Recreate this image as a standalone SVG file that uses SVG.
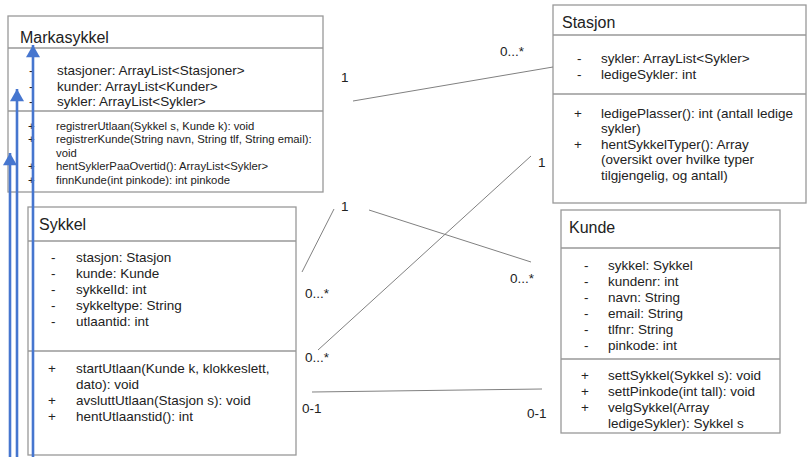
<svg xmlns="http://www.w3.org/2000/svg" width="807" height="457" viewBox="0 0 807 457">
<style>
.box{fill:#ffffff;stroke:#999999;stroke-width:1.3}
.div{stroke:#999999;stroke-width:1.3}
text{font-family:"Liberation Sans",Arial,sans-serif;fill:#222222}
.t{font-size:16px}
.a{font-size:13.5px}
.m{font-size:11.3px}
.c{stroke:#808080;stroke-width:1;fill:none}
.ml{font-size:13.5px}
.blue{stroke:#4676cf;stroke-width:2.6;fill:none}
</style>
<defs>
<marker id="bh" markerUnits="userSpaceOnUse" markerWidth="16" markerHeight="14" refX="14" refY="8" orient="auto" viewBox="0 0 14 16">
<path d="M0,0 L14,8 L0,16 Z" fill="#4676cf"/>
</marker>
</defs>
<rect width="807" height="457" fill="#ffffff"/>

<g id="markasykkel">
<rect class="box" x="8" y="16" width="315" height="176"/>
<line class="div" x1="8" y1="48" x2="323" y2="48"/>
<line class="div" x1="8" y1="111" x2="323" y2="111"/>
<text class="t" x="20" y="43">Markasykkel</text>
<text class="a" x="29" y="75">-</text>
<text class="a" x="29" y="91">-</text>
<text class="a" x="29" y="106">-</text>
<text class="a" x="57" y="75">stasjoner: ArrayList&lt;Stasjoner&gt;</text>
<text class="a" x="57" y="91">kunder: ArrayList&lt;Kunder&gt;</text>
<text class="a" x="57" y="106">sykler: ArrayList&lt;Sykler&gt;</text>
<text class="m" x="28" y="130">+</text>
<text class="m" x="28" y="143">+</text>
<text class="m" x="28" y="170">+</text>
<text class="m" x="28" y="184">+</text>
<text class="m" x="56" y="130">registrerUtlaan(Sykkel s, Kunde k): void</text>
<text class="m" x="56" y="143">registrerKunde(String navn, String tlf, String email):</text>
<text class="m" x="56" y="157">void</text>
<text class="m" x="56" y="170">hentSyklerPaaOvertid(): ArrayList&lt;Sykler&gt;</text>
<text class="m" x="56" y="184">finnKunde(int pinkode): int pinkode</text>
</g>

<g id="sykkel">
<rect class="box" x="28" y="207" width="268" height="248"/>
<line class="div" x1="28" y1="241" x2="296" y2="241"/>
<line class="div" x1="28" y1="351" x2="296" y2="351"/>
<text class="t" x="39" y="230">Sykkel</text>
<text class="a" x="51" y="262">-</text>
<text class="a" x="51" y="278">-</text>
<text class="a" x="51" y="294">-</text>
<text class="a" x="51" y="310">-</text>
<text class="a" x="51" y="326">-</text>
<text class="a" x="76" y="262">stasjon: Stasjon</text>
<text class="a" x="76" y="278">kunde: Kunde</text>
<text class="a" x="76" y="294">sykkelId: int</text>
<text class="a" x="76" y="310">sykkeltype: String</text>
<text class="a" x="76" y="326">utlaantid: int</text>
<text class="a" x="48" y="373">+</text>
<text class="a" x="48" y="405">+</text>
<text class="a" x="48" y="421">+</text>
<text class="a" x="76" y="373">startUtlaan(Kunde k, klokkeslett,</text>
<text class="a" x="76" y="389">dato): void</text>
<text class="a" x="76" y="405">avsluttUtlaan(Stasjon s): void</text>
<text class="a" x="76" y="421">hentUtlaanstid(): int</text>
</g>

<g id="stasjon">
<rect class="box" x="553" y="5" width="253" height="198"/>
<line class="div" x1="553" y1="35" x2="806" y2="35"/>
<line class="div" x1="553" y1="94" x2="806" y2="94"/>
<text class="t" x="562" y="28">Stasjon</text>
<text class="a" x="577" y="63">-</text>
<text class="a" x="577" y="79">-</text>
<text class="a" x="601" y="63">sykler: ArrayList&lt;Sykler&gt;</text>
<text class="a" x="601" y="79">ledigeSykler: int</text>
<text class="a" x="574" y="118">+</text>
<text class="a" x="574" y="149">+</text>
<text class="a" x="601" y="118">ledigePlasser(): int (antall ledige</text>
<text class="a" x="601" y="133">sykler)</text>
<text class="a" x="601" y="149">hentSykkelTyper(): Array</text>
<text class="a" x="601" y="164">(oversikt over hvilke typer</text>
<text class="a" x="601" y="180">tilgjengelig, og antall)</text>
</g>

<g id="kunde">
<rect class="box" x="561" y="210" width="219" height="223"/>
<line class="div" x1="561" y1="248" x2="780" y2="248"/>
<line class="div" x1="561" y1="359" x2="780" y2="359"/>
<text class="t" x="569" y="233">Kunde</text>
<text class="a" x="584" y="270">-</text>
<text class="a" x="584" y="286">-</text>
<text class="a" x="584" y="302">-</text>
<text class="a" x="584" y="318">-</text>
<text class="a" x="584" y="334">-</text>
<text class="a" x="584" y="350">-</text>
<text class="a" x="608" y="270">sykkel: Sykkel</text>
<text class="a" x="608" y="286">kundenr: int</text>
<text class="a" x="608" y="302">navn: String</text>
<text class="a" x="608" y="318">email: String</text>
<text class="a" x="608" y="334">tlfnr: String</text>
<text class="a" x="608" y="350">pinkode: int</text>
<text class="a" x="581" y="380">+</text>
<text class="a" x="581" y="396">+</text>
<text class="a" x="581" y="412">+</text>
<text class="a" x="608" y="380">settSykkel(Sykkel s): void</text>
<text class="a" x="608" y="396">settPinkode(int tall): void</text>
<text class="a" x="608" y="412">velgSykkel(Array</text>
<text class="a" x="608" y="428">ledigeSykler): Sykkel s</text>
</g>

<g id="connectors">
<line class="c" x1="353" y1="101" x2="553" y2="67"/>
<line class="c" x1="334" y1="209" x2="302" y2="272"/>
<line class="c" x1="369" y1="210" x2="531" y2="262"/>
<line class="c" x1="531" y1="156" x2="318" y2="350"/>
<line class="c" x1="312" y1="392" x2="542" y2="389"/>
<text class="ml" x="341" y="82">1</text>
<text class="ml" x="500" y="56">0...*</text>
<text class="ml" x="341" y="211">1</text>
<text class="ml" x="305" y="298">0...*</text>
<text class="ml" x="510" y="283">0...*</text>
<text class="ml" x="538" y="167">1</text>
<text class="ml" x="305" y="362">0...*</text>
<text class="ml" x="302" y="413">0-1</text>
<text class="ml" x="527" y="418">0-1</text>
<line class="blue" x1="10" y1="457" x2="10" y2="153" marker-end="url(#bh)"/>
<line class="blue" x1="17" y1="457" x2="17" y2="89" marker-end="url(#bh)"/>
<line class="blue" x1="33" y1="457" x2="33" y2="45" marker-end="url(#bh)"/>
</g>
</svg>
